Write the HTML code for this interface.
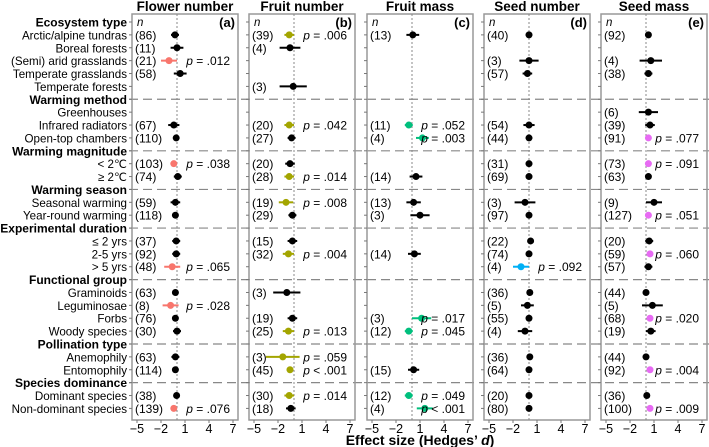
<!DOCTYPE html>
<html><head><meta charset="utf-8"><style>
body{margin:0;background:#fff;}
svg{display:block;font-family:"Liberation Sans",Arial,sans-serif;}
</style></head><body>
<svg id="chart" width="709" height="447" viewBox="0 0 709 447" xmlns="http://www.w3.org/2000/svg"></svg>
<script>
const rowLabels = ["Ecosystem type","Arctic/alpine tundras","Boreal forests","(Semi) arid grasslands","Temperate grasslands","Temperate forests","Warming method","Greenhouses","Infrared radiators","Open-top chambers","Warming magnitude","< 2\u2103","\u2265 2\u2103","Warming season","Seasonal warming","Year-round warming","Experimental duration","\u2264 2 yrs","2-5 yrs","> 5 yrs","Functional group","Graminoids","Leguminosae","Forbs","Woody species","Pollination type","Anemophily","Entomophily","Species dominance","Dominant species","Non-dominant species"];
const headerRows = [0,6,10,13,16,20,25,28];
const panelTitles = ["Flower number","Fruit number","Fruit mass","Seed number","Seed mass"];
const panelTags = ["(a)","(b)","(c)","(d)","(e)"];
const sigColors = ["#f8766d","#a3a500","#00bf7d","#00b0f6","#e76bf3"];
const ticks = [-5,-2,1,4,7];
// data rows (23): Arctic,Boreal,Semi,TG,TF,GH,IR,OTC,<2,>=2,Seas,Year,<=2,2-5,>5,Gram,Leg,Forbs,Woody,Anem,Ento,Dom,NonDom
const aMean=[-0.25,0,-1,0.4,null,null,-0.4,-0.1,-0.4,0.1,-0.2,-0.2,-0.1,-0.1,-0.6,-0.2,-0.8,-0.2,0,-0.2,-0.2,-0.05,-0.4];
const aCi=[0.5,0.8,1,0.8,null,null,0.7,0.4,0.3,0.5,0.6,0.3,0.5,0.5,1,0.4,1,0.3,0.5,0.5,0.3,0.4,0.3];
const aN=[86,11,21,58,null,null,67,110,103,74,59,118,37,92,48,63,8,76,30,63,114,38,139];
const aP=[null,null,"p = .012",null,null,null,null,null,"p = .038",null,null,null,null,null,"p = .065",null,"p = .028",null,null,null,null,null,"p = .076"];
const bMean=[-0.6,-0.5,null,null,-0.1,null,-0.6,-0.3,-0.5,-0.6,-1,-0.2,-0.2,-0.7,null,-0.9,null,-0.2,-0.7,-1.4,-0.5,-0.6,-0.4];
const bCi=[0.6,1.3,null,null,1.7,null,0.6,0.5,0.6,0.6,0.9,0.5,0.6,0.7,null,1.7,null,0.6,0.7,2.1,0.4,0.6,0.6];
const bN=[39,4,null,null,3,null,20,27,20,28,19,29,15,32,null,3,null,19,25,3,45,30,18];
const bP=["p = .006",null,null,null,null,null,"p = .042",null,null,"p = .014","p = .008",null,null,"p = .004",null,null,null,null,"p = .013","p = .059","p < .001","p = .014",null];
const cMean=[0.1,null,null,null,null,null,-0.4,1.3,null,0.5,0.2,1,null,0.3,null,null,null,1.2,-0.4,null,0.2,-0.4,1.6];
const cCi=[0.8,null,null,null,null,null,0.5,0.8,null,0.8,0.9,1.2,null,0.8,null,null,null,1.2,0.5,null,0.7,0.5,1];
const cN=[13,null,null,null,null,null,11,4,null,14,13,3,null,14,null,null,null,3,12,null,15,12,4];
const cP=[null,null,null,null,null,null,"p = .052","p = .003",null,null,null,null,null,null,null,null,null,"p = .017","p = .045",null,null,"p = .049","p < .001"];
const dMean=[0,null,0,-0.2,null,null,0,0,0,0,-0.5,0,0.2,0,-1,0.1,-0.2,0,-0.5,0.1,0,0,0];
const dCi=[0.4,null,1.2,0.6,null,null,0.7,0.4,0.4,0.4,1.3,0.3,0.4,0.4,1,0.4,0.8,0.3,0.9,0.4,0.3,0.4,0.3];
const dN=[40,null,3,57,null,null,54,44,31,69,3,97,22,74,4,36,5,55,4,36,64,20,80];
const dP=[null,null,null,null,null,null,null,null,null,null,null,null,null,null,"p = .092",null,null,null,null,null,null,null,null];
const eMean=[0.3,null,0.6,0.3,null,0.3,0.5,0.3,0.3,0.3,1,0.3,0.4,0.5,0.3,0,0.8,0.5,0.6,0,0.5,0.1,0.5];
const eCi=[0.3,null,1.4,0.5,null,1.2,0.6,0.2,0.3,0.3,1,0.2,0.5,0.3,0.5,0.4,1.3,0.3,0.6,0.4,0.2,0.4,0.3];
const eN=[92,null,4,38,null,6,39,91,73,63,9,127,20,59,57,44,5,68,19,44,92,36,100];
const eP=[null,null,null,null,null,null,null,"p = .077","p = .091",null,null,"p = .051",null,"p = .060",null,null,null,"p = .020",null,null,"p = .004",null,"p = .009"];
const means=[aMean,bMean,cMean,dMean,eMean], cis=[aCi,bCi,cCi,dCi,eCi], ns=[aN,bN,cN,dN,eN], ps=[aP,bP,cP,dP,eP];

const svg=document.getElementById('chart');
const NS='http://www.w3.org/2000/svg';
function mk(tag,attrs,text){const e=document.createElementNS(NS,tag);for(const k in attrs)e.setAttribute(k,attrs[k]);if(text!=null)e.textContent=text;svg.appendChild(e);return e;}
const boxLeft=[132,249,367,484,601], boxW=106, boxTop=14, boxBot=420;
function yRow(i){return 22+i*12.88;}
function xScale(p,v){return boxLeft[p]+5+(v+5)*8;}
const dataRows=[];rowLabels.forEach((l,i)=>{if(!headerRows.includes(i))dataRows.push(i);});

rowLabels.forEach((l,i)=>{
  const h=headerRows.includes(i);
  const t=mk('text',{x:127,y:yRow(i)+4.5,'text-anchor':'end','font-size':h?12:11.6,'font-weight':h?'bold':'normal',fill:'#000'},l);
  
  
});
headerRows.slice(1).forEach(i=>{
  const l=mk('line',{x1:129,x2:709,y1:yRow(i),y2:yRow(i),stroke:'#888','stroke-width':1.2,'stroke-dasharray':'9,5'});
  
  
});
for(let p=0;p<5;p++){
  const L=boxLeft[p];
  const box=mk('rect',{x:L,y:boxTop,width:boxW,height:boxBot-boxTop,fill:'none',stroke:'#999','stroke-width':1.5});
  
  
  const tt=mk('text',{x:L+boxW/2,y:11,'text-anchor':'middle','font-size':13.5,'font-weight':'bold'},panelTitles[p]);
  
  
  const tg=mk('text',{x:L+boxW-3,y:yRow(0)+5,'text-anchor':'end','font-size':13,'font-weight':'bold'},panelTags[p]);
  
  
  const nl=mk('text',{x:L+5,y:yRow(0)+4,'font-size':11.5,'font-style':'italic'},'n');
  
  
  const z=mk('line',{x1:xScale(p,0),x2:xScale(p,0),y1:boxTop,y2:boxBot,stroke:'#888','stroke-width':1,'stroke-dasharray':'2,2'});
  
  
  rowLabels.forEach((l,i)=>{mk('line',{x1:L-3,x2:L,y1:yRow(i),y2:yRow(i),stroke:'#777','stroke-width':1});});
  ticks.forEach(t=>{
    const x=xScale(p,t);
    mk('line',{x1:x,x2:x,y1:boxBot,y2:boxBot+3,stroke:'#777','stroke-width':1});
    const tl=mk('text',{x:x,y:433,'text-anchor':'middle','font-size':12.5},t<0?'\u2212'+(-t):String(t));
    
    
  });
  dataRows.forEach((r,k)=>{
    const m=means[p][k]; if(m==null)return;
    const y=yRow(r), c=cis[p][k], col=ps[p][k]?sigColors[p]:'#000';
    const ci=mk('line',{x1:xScale(p,m-c),x2:xScale(p,m+c),y1:y,y2:y,stroke:col,'stroke-width':2});
    
    
    const pt=mk('circle',{cx:xScale(p,m),cy:y,r:3.5,fill:col});
    
    
    const nt=mk('text',{x:L+3,y:y+4.5,'font-size':12},'('+ns[p][k]+')');
    
    
    if(ps[p][k]){
      const parts=ps[p][k].split(' ');
      const pl=mk('text',{x:L+boxW-8,y:y+4.5,'text-anchor':'end','font-size':12},null);
      
      
      const s1=document.createElementNS(NS,'tspan');s1.setAttribute('font-style','italic');s1.textContent='p';pl.appendChild(s1);
      const s2=document.createElementNS(NS,'tspan');s2.textContent=' '+parts.slice(1).join(' ');pl.appendChild(s2);
    }
  });
}
const at=mk('text',{x:420,y:445,'text-anchor':'middle','font-size':14,'font-weight':'bold'},null);


at.innerHTML='Effect size (Hedges\u2019 <tspan font-style="italic">d</tspan>)';
</script>
</body></html>
